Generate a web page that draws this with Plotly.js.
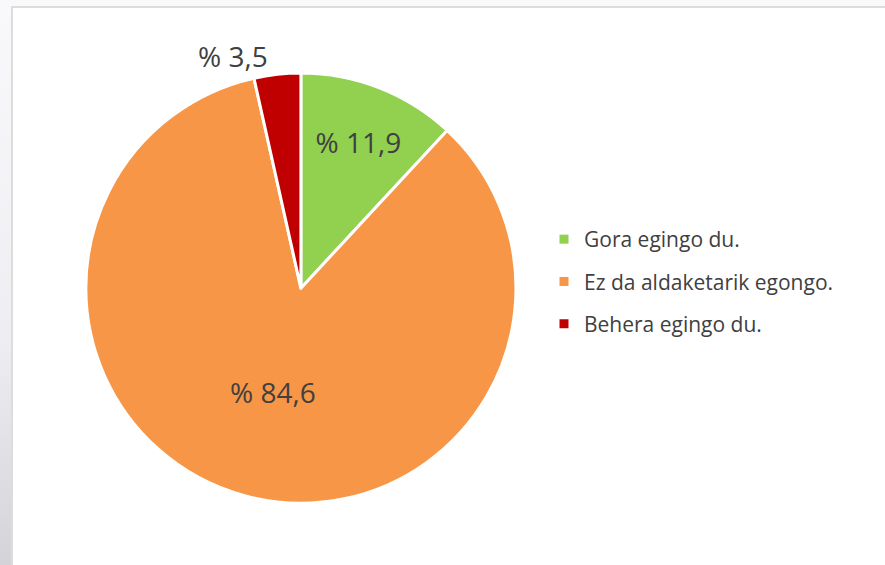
<!DOCTYPE html>
<html>
<head>
<meta charset="utf-8">
<script src="https://cdn.plot.ly/plotly-3.0.1.min.js"></script>
<style>
  html, body { margin:0; padding:0; width:885px; height:565px; overflow:hidden;
    background: linear-gradient(180deg, #f9f8fb 0%, #eeedf1 60%, #d4d3d8 100%); }
  #frame { position:absolute; left:11px; top:6px; width:900px; height:600px;
    background:#ffffff; border:2px solid #dcdcdc; box-sizing:border-box; }
  #chart { position:absolute; left:0; top:0; width:885px; height:565px; }
</style>
</head>
<body>
<div id="frame"></div>
<div id="chart"></div>
<script>
const labels = ['Gora egingo du.', 'Ez da aldaketarik egongo.', 'Behera egingo du.'];
const values = [11.9, 84.6, 3.5];
const colors = ['#92D050', '#F79646', '#C00000'];
const textPositions = ['inside', 'inside', 'outside'];

const textColor = '#404040';
const fontFam = '"Open Sans", "Noto Sans", sans-serif';

const pie = {
  type: 'pie',
  labels: labels,
  values: values,
  sort: false,
  direction: 'clockwise',
  rotation: 0,
  marker: { colors: colors, line: { color: '#ffffff', width: 3 } },
  texttemplate: '% %{value:.1f}',
  textposition: textPositions,
  insidetextorientation: 'horizontal',
  insidetextfont: { family: fontFam, size: 28, color: textColor },
  outsidetextfont: { family: fontFam, size: 28, color: textColor },
  showlegend: false,
  hoverinfo: 'none',
  domain: { x: [0.097, 0.583], y: [0.045, 0.935] }
};

const legendProxies = labels.map((lab, i) => ({
  type: 'scatter',
  mode: 'markers',
  x: [null], y: [null],
  name: lab,
  legendgroup: 'g' + i,
  marker: { symbol: 'square', size: 9, color: colors[i] },
  hoverinfo: 'none',
  showlegend: true
}));

const layout = {
  width: 885, height: 565,
  margin: { l: 0, r: 0, t: 0, b: 0 },
  paper_bgcolor: 'rgba(0,0,0,0)',
  plot_bgcolor: 'rgba(0,0,0,0)',
  separators: ',.',
  font: { family: fontFam, color: textColor },
  xaxis: { visible: false },
  yaxis: { visible: false },
  showlegend: true,
  legend: {
    x: 544 / 885, xanchor: 'left',
    y: 1 - 219 / 565, yanchor: 'top',
    font: { family: fontFam, size: 21, color: textColor },
    tracegroupgap: 12,
    bgcolor: 'rgba(0,0,0,0)'
  }
};

Plotly.newPlot('chart', [pie].concat(legendProxies), layout, { staticPlot: true, displayModeBar: false });
</script>
</body>
</html>
